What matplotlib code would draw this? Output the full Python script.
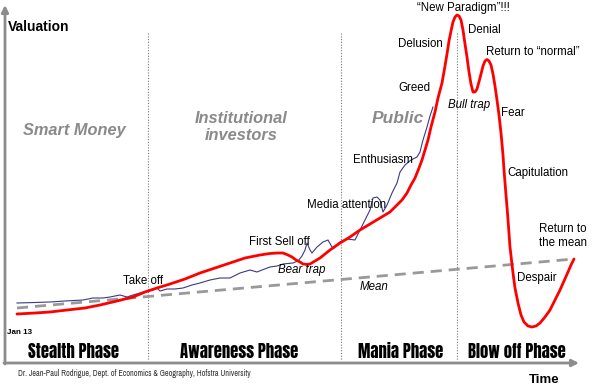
import matplotlib.pyplot as plt

# valuation is measured upward from the bottom of the picture (pixel units)
H = 389

# market price (red): time, height from the top
red_t = [17, 35, 50, 67, 85, 100, 117, 133, 145, 157, 170, 185, 200, 215, 230, 245, 260,
         270, 277, 283, 288, 292, 296, 300, 303, 307, 310, 315, 320, 330, 340, 350, 360,
         370, 380, 390, 397, 402, 407, 411, 415, 419, 422, 425, 428, 431, 435, 438, 442,
         445, 447, 449, 451, 453, 455, 457, 459, 461, 463, 465, 467, 469, 471, 473, 475,
         477, 480, 483, 485, 487, 489, 491, 493, 495, 497, 499, 501, 503, 504, 506, 507.5,
         510, 513, 515, 518, 521, 524, 528, 532, 536, 540, 545, 550, 555, 560, 564, 568,
         571, 574]
red_y = [314, 313, 312, 310, 308, 305, 301, 297, 292, 288, 284, 279, 273, 268, 263, 258, 255,
         253.5, 253, 253, 255, 257, 260, 262, 264, 264.5, 264, 261, 258, 250, 243, 237, 230,
         224, 218, 212, 205, 200, 193, 185, 178, 168, 160, 150, 140, 127, 112, 98, 83,
         66, 54, 41, 31, 22, 17, 15, 16, 20, 30, 44, 57, 72, 84, 92, 92,
         89, 78, 66, 61, 59.5, 61, 65, 74, 86, 100, 115, 133, 155, 170, 195, 213,
         247, 273, 288, 303, 315, 322, 326, 327, 326, 323, 317, 310, 300, 290, 281, 272,
         265, 259]
red_v = [H - y for y in red_y]

# actual index (blue)
blue_t = [17, 35, 50, 65, 83, 93, 103, 110, 120, 127, 133, 140, 147, 153, 157, 160, 167,
          175, 183, 192, 200, 210, 220, 230, 240, 250, 257, 262, 270, 277, 283, 293, 298,
          302, 305, 307, 310, 312, 317, 323, 328, 332, 334, 340, 347, 355, 360, 365, 370,
          373, 377, 380, 383, 387, 392, 397, 400, 405, 411, 417, 420, 423, 427, 430, 433]
blue_y = [303, 302.5, 302, 301, 300, 298, 298, 297, 295, 297, 295, 293, 291, 290, 288, 291, 289,
          289, 288, 285, 283, 280, 278, 278, 273, 270, 272, 270, 267, 266, 264, 263, 261,
          256, 250, 243, 250, 253, 247, 242, 240, 247, 248, 242, 239, 240, 230, 220, 210,
          198, 197, 200, 212, 205, 193, 183, 172, 165, 160, 157, 152, 140, 127, 116, 107]
blue_v = [H - y for y in blue_y]

# long term mean
mean_t = [17, 574]
mean_v = [H - 308, H - 259]

phase_bounds = [148, 341, 457]
phases = ["Stealth Phase", "Awareness Phase", "Mania Phase", "Blow off Phase"]
phase_x = [74, 239, 401, 517]

fig = plt.figure(figsize=(6, 3.89), dpi=100)
ax = fig.add_axes([0, 0, 1, 1])
ax.set_xlim(0, 600)
ax.set_ylim(0, H)
ax.axis("off")

grey = "#8c8c8c"
# axes arrows
ax.annotate("", xy=(5, H - 5), xytext=(5, H - 364),
            arrowprops=dict(arrowstyle="-|>", color=grey, lw=2, mutation_scale=10, shrinkA=0, shrinkB=0))
ax.annotate("", xy=(579, H - 363), xytext=(4, H - 363),
            arrowprops=dict(arrowstyle="-|>", color=grey, lw=2, mutation_scale=10, shrinkA=0, shrinkB=0))

for b in phase_bounds:
    ax.plot([b, b], [H - 33, H - 360], color="#777777", lw=0.8, ls=(0, (1, 1.5)))

ax.plot(mean_t, mean_v, color="#999999", lw=2, ls=(0, (4, 2.5)))
ax.plot(blue_t, blue_v, color="#3a3a85", lw=0.8)
ax.plot(red_t, red_v, color="#ff0000", lw=2, solid_capstyle="round", solid_joinstyle="round")

ax.text(8, H - 27, "Valuation", fontsize=10, fontweight="bold", va="center", family="Liberation Sans")
ax.text(544, H - 380, "Time", fontsize=9.5, fontweight="bold", va="center", ha="center", family="Liberation Sans")
ax.text(7, H - 333, "Jan 13", fontsize=5.8, fontweight="bold", va="center", family="Liberation Sans")
ax.text(18, H - 373, "Dr. Jean-Paul Rodrigue, Dept. of Economics & Geography, Hofstra University",
        fontsize=5.9, va="center", family=["Archivo Narrow", "DejaVu Sans"], color="#333333")

for name, x in zip(phases, phase_x):
    ax.text(x, H - 351, name, fontsize=12, ha="center", va="center",
            family=["Anton", "DejaVu Sans"])

sect = dict(color="#8a8a8a", style="italic", fontweight="bold", ha="center", va="center",
            family="Liberation Sans")
ax.text(74, H - 130, "Smart Money", fontsize=11.8, **sect)
ax.text(241, H - 127, "Institutional\ninvestors", fontsize=11.8, linespacing=1.2, **sect)
ax.text(398, H - 118, "Public", fontsize=12.5, **sect)

lab = dict(fontsize=8.3, va="center", family="Liberation Sans")
ax.text(123, H - 281, "Take off", **lab)
ax.text(249, H - 242, "First Sell off", **lab)
ax.text(278, H - 270, "Bear trap", style="italic", **lab)
ax.text(307, H - 205, "Media attention", **lab)
ax.text(353, H - 160, "Enthusiasm", **lab)
ax.text(360, H - 287, "Mean", style="italic", **lab)
ax.text(398, H - 88, "Greed", **lab)
ax.text(398, H - 44, "Delusion", **lab)
ax.text(417, H - 7.5, "\u201cNew Paradigm\u201d!!!", **lab)
ax.text(468, H - 30, "Denial", **lab)
ax.text(486, H - 52, "Return to \u201cnormal\u201d", **lab)
ax.text(448, H - 105, "Bull trap", style="italic", **lab)
ax.text(501, H - 113, "Fear", **lab)
ax.text(507, H - 173, "Capitulation", **lab)
ax.text(539, H - 236, "Return to\nthe mean", linespacing=1.3, **lab)
ax.text(517, H - 278, "Despair", **lab)

fig.savefig("out.png", dpi=100)
